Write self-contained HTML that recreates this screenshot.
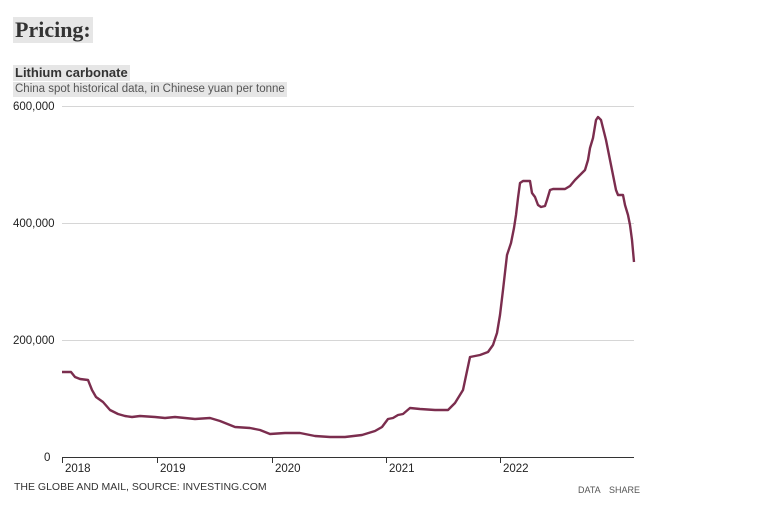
<!DOCTYPE html>
<html><head><meta charset="utf-8"><style>
body{margin:0;width:768px;height:512px;background:#fff;font-family:"Liberation Sans",sans-serif;overflow:hidden}
.t{position:absolute;background:#e6e6e6;color:#333}
</style></head><body>
<div class="t" style="left:13px;top:17px;font-family:'Liberation Serif',serif;font-weight:bold;font-size:22px;line-height:26px;padding:0 2px;">Pricing:</div>
<div class="t" style="left:13px;top:65px;font-weight:bold;font-size:13px;line-height:16px;padding:0 2px;">Lithium carbonate</div>
<div class="t" style="left:13px;top:82px;font-size:11.5px;line-height:15px;color:#555;padding:0 2px;">China spot historical data, in Chinese yuan per tonne</div>
<svg width="768" height="512" style="position:absolute;left:0;top:0" font-family="Liberation Sans, sans-serif">
<g stroke="#d6d6d6" stroke-width="1">
<line x1="62" y1="106.5" x2="634" y2="106.5"/>
<line x1="62" y1="223.5" x2="634" y2="223.5"/>
<line x1="62" y1="340.5" x2="634" y2="340.5"/>
</g>
<g fill="#222" font-size="11.5">
<text x="13" y="110">600,000</text>
<text x="13" y="227">400,000</text>
<text x="13" y="344">200,000</text>
<text x="44" y="461">0</text>
</g>
<line x1="62" y1="457.5" x2="634" y2="457.5" stroke="#333" stroke-width="1"/>
<g stroke="#333"><line x1="62.5" y1="457" x2="62.5" y2="463"/><line x1="157.5" y1="457" x2="157.5" y2="463"/><line x1="272.5" y1="457" x2="272.5" y2="463"/><line x1="386.5" y1="457" x2="386.5" y2="463"/><line x1="500.5" y1="457" x2="500.5" y2="463"/></g>
<g fill="#222" font-size="11.5">
<text x="65" y="472">2018</text><text x="160" y="472">2019</text><text x="275" y="472">2020</text><text x="389" y="472">2021</text><text x="503" y="472">2022</text>
</g>
<text x="14" y="490" font-size="10.5" fill="#333">THE GLOBE AND MAIL, SOURCE: INVESTING.COM</text>
<text x="578" y="493" font-size="9" fill="#555">DATA</text>
<text x="609" y="493" font-size="9" fill="#555">SHARE</text>
<polyline fill="none" stroke="#7b2d4e" stroke-width="2.4" stroke-linejoin="round" points="62,372 71,372 75,377 80,379 88,380 92,390 96,397 103,402 110,410 118,414 125,416 132,417 140,416 155,417 165,418 175,417 185,418 195,419 210,418 220,421 235,427 250,428 260,430 270,434 285,433 300,433 315,436 330,437 345,437 362,435 375,431 382,427 388,419 393,418 398,415 403,414 410,408 420,409 435,410 448,410 455,403 463,390 470,357 480,355 488,352 493,345 497,333 500,315 503,290 507,255 511,243 514,228 516,215 518,198 520,183 523,181 530,181 532,193 535,197 538,205 541,207 545,206 547,200 550,190 553,189 558,189 565,189 570,186 575,180 580,175 585,170 588,160 590,148 593,138 596,120 598,117 601,120 603,128 606,140 609,155 612,170 614,180 616,190 618,195 623,195 625,205 628,215 630,225 632,240 634,262"/>
</svg>
</body></html>
